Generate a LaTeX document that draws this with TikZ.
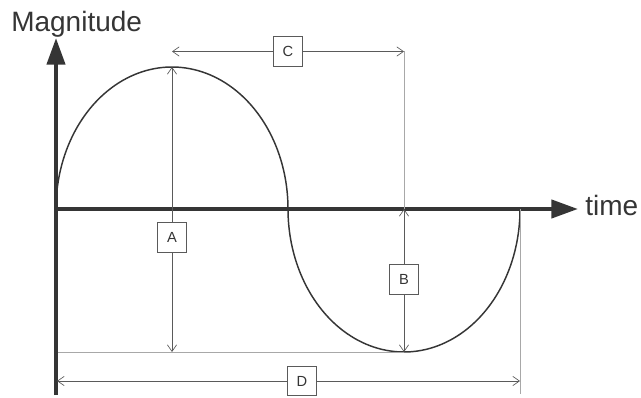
\documentclass[tikz,border=0pt]{standalone}
\usepackage{fontspec}
\setmainfont{Liberation Sans}
\usetikzlibrary{arrows.meta}
\definecolor{axisgray}{HTML}{353535}
\definecolor{dimgray}{HTML}{5a5a5a}
\definecolor{guidegray}{HTML}{a8a8a8}

\begin{document}
\begin{tikzpicture}[x=0.75pt, y=-0.75pt,
  every node/.style={font=\fontsize{11}{12}\selectfont, inner sep=0pt, text=axisgray},
  lbl/.style={draw=dimgray, fill=white, line width=0.6pt, minimum size=22pt},
  dimline/.style={dimgray, line width=0.5pt, -{Straight Barb[length=5pt, width=7pt]}},
  guide/.style={guidegray, line width=0.5pt},
  wave/.style={axisgray, line width=1.1pt},
  axis/.style={axisgray, line width=3.2pt, -{Triangle[length=20pt, width=13.5pt]}}]
\useasboundingbox (0,0) rectangle (641,398);
% axes
\coordinate (ybot) at (56,395);
\coordinate (ytop) at (56,38);
\coordinate (origin) at (56,209);
\coordinate (xtip) at (578,209);
\draw[axis] (ybot) -- (ytop);
\draw[axis] (origin) -- (xtip);
\node[anchor=base west, font=\fontsize{21}{24}\selectfont] (ylabel) at (11,32) {Magnitude};
\node[anchor=base west, font=\fontsize{21}{24}\selectfont] (xlabel) at (585,216) {time};
% the wave, two half ellipses
\draw[wave] plot[domain=180:0, samples=90, smooth] ({172+116*cos(\x)}, {209-142*sin(\x)});
\draw[wave] plot[domain=180:360, samples=90, smooth] ({404+116*cos(\x)}, {209-143*sin(\x)});
% guide lines
\coordinate (peak) at (172,67);
\coordinate (troughL) at (58,352);
\coordinate (trough) at (404,352);
\coordinate (ctop) at (404,51.5);
\coordinate (bzero) at (404,209);
\coordinate (dend) at (520,209);
\coordinate (dfoot) at (520,394);
\draw[guide] (troughL) -- (trough);
\draw[guide] (ctop) -- (bzero);
\draw[guide] (dend) -- (dfoot);
% A
\node[lbl] (lblA) at (172,237.5) {A};
\draw[dimline] (lblA) -- (peak);
\draw[dimline] (lblA) -- (172,352);
% B
\node[lbl] (lblB) at (404,279.5) {B};
\draw[dimline] (lblB) -- (bzero);
\draw[dimline] (lblB) -- (trough);
% C
\coordinate (cleft) at (172,51.5);
\node[lbl] (lblC) at (288,51.5) {C};
\draw[dimline] (lblC) -- (cleft);
\draw[dimline] (lblC) -- (ctop);
% D
\coordinate (dleft) at (57,381);
\coordinate (dright) at (520,381);
\node[lbl] (lblD) at (302,381) {D};
\draw[dimline] (lblD) -- (dleft);
\draw[dimline] (lblD) -- (dright);
\end{tikzpicture}
\end{document}
